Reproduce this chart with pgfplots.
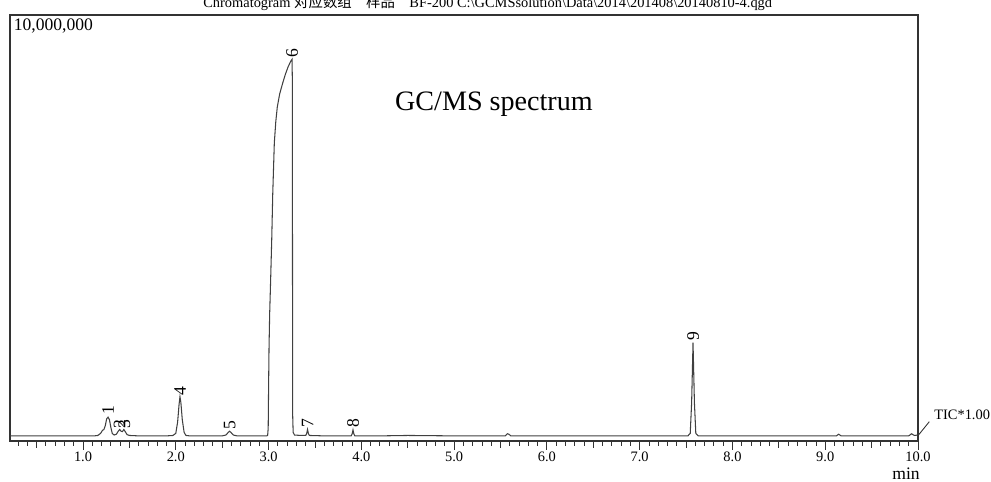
\documentclass[border=0pt]{standalone}
\usepackage{pgfplots}
\pgfplotsset{compat=1.18}
\usepackage{fontspec}
\setmainfont{Liberation Serif}
\newfontfamily\cjk{Noto Sans CJK SC}
\begin{document}
\begin{tikzpicture}
\useasboundingbox (-0.2cm,-0.82cm) rectangle (19.62cm,8.82cm);
\begin{axis}[
  at={(0,0)}, anchor=south west,
  width=18.16cm, height=8.52cm, scale only axis,
  xmin=0.213, xmax=10, ymin=0, ymax=10,
  clip=false,
  axis line style={black!80, line width=0.6pt},
  ytick=\empty,
  xtick={1,2,3,4,5,6,7,8,9,10},
  minor xtick={0.3,0.4,...,9.95},
  extra x ticks={0.5,1.5,2.5,3.5,4.5,5.5,6.5,7.5,8.5,9.5},
  extra x tick labels={},
  extra x tick style={major tick length=0.14cm},
  xtick pos=bottom,
  tick align=outside,
  major tick length=0.18cm,
  minor tick length=0.1cm,
  tick style={black!80, line width=0.5pt},
  xticklabel style={yshift=0.08cm, font=\fontsize{8.2}{10}\selectfont, /pgf/number format/.cd, fixed, fixed zerofill, precision=1, assume math mode=true},
  every node/.style={font=\fontsize{8.2}{10}\selectfont},
]
\addplot[black!75, line width=0.6pt] coordinates {
(0.213,0.12) (0.5,0.12) (0.8,0.12) (1.0,0.12) (1.12,0.12) (1.16,0.13) (1.19,0.18) (1.21,0.25) (1.225,0.27) (1.24,0.36) (1.255,0.52) (1.27,0.56) (1.285,0.50) (1.30,0.32) (1.315,0.18) (1.335,0.14) (1.36,0.16) (1.38,0.23) (1.395,0.27) (1.41,0.23) (1.425,0.22) (1.44,0.27) (1.455,0.22) (1.475,0.15) (1.50,0.13) (1.6,0.12) (1.9,0.12) (1.97,0.13) (2.00,0.18) (2.02,0.45) (2.035,0.85) (2.045,1.04) (2.055,0.90) (2.07,0.50) (2.09,0.20) (2.11,0.13) (2.15,0.12) (2.50,0.12) (2.54,0.14) (2.565,0.20) (2.58,0.23) (2.595,0.20) (2.62,0.14) (2.66,0.12) (2.98,0.12) (2.99,0.13) (2.996,0.3) (3.0,1.2) (3.005,2.2) (3.012,3.0) (3.02,3.6) (3.034,4.72) (3.045,5.8) (3.062,7.0) (3.078,7.5) (3.094,7.84) (3.12,8.15) (3.152,8.40) (3.18,8.6) (3.21,8.78) (3.24,8.92) (3.253,8.96) (3.256,8.5) (3.258,4.0) (3.260,0.6) (3.265,0.2) (3.28,0.14) (3.35,0.13) (3.40,0.13) (3.41,0.17) (3.42,0.27) (3.43,0.17) (3.44,0.13) (3.6,0.12) (3.89,0.12) (3.90,0.16) (3.91,0.26) (3.92,0.16) (3.93,0.12) (4.2,0.12) (4.5,0.13) (5.0,0.12) (5.55,0.12) (5.575,0.17) (5.59,0.16) (5.61,0.12) (6.0,0.12) (7.0,0.12) (7.52,0.12) (7.545,0.18) (7.56,0.9) (7.575,2.31) (7.59,0.9) (7.605,0.18) (7.63,0.12) (8.0,0.12) (9.12,0.12) (9.145,0.16) (9.17,0.12) (9.9,0.12) (9.93,0.17) (9.96,0.13) (10.0,0.14)
};
% peak labels
\node[rotate=90, anchor=west, inner sep=0.8pt] at (axis cs:1.27,0.58) {1};
\node[rotate=90, anchor=west, inner sep=0.5pt] at (axis cs:1.395,0.27) {2};
\node[rotate=90, anchor=west, inner sep=0.5pt] at (axis cs:1.445,0.27) {3};
\node[rotate=90, anchor=west, inner sep=0.5pt] at (axis cs:2.045,1.05) {4};
\node[rotate=90, anchor=west, inner sep=0.5pt] at (axis cs:2.58,0.24) {5};
\node[rotate=90, anchor=west, inner sep=0.5pt] at (axis cs:3.253,8.97) {6};
\node[rotate=90, anchor=west, inner sep=0.5pt] at (axis cs:3.42,0.28) {7};
\node[rotate=90, anchor=west, inner sep=0.5pt] at (axis cs:3.91,0.28) {8};
\node[rotate=90, anchor=west, inner sep=0.5pt] at (axis cs:7.575,2.32) {9};
% texts
\node[anchor=north west, inner sep=2pt] at (rel axis cs:0,1) {10,000,000};
\node[font=\fontsize{16}{19}\selectfont] at (rel axis cs:0.533,0.791) {GC/MS spectrum};
\node at (rel axis cs:1,0) [xshift=-0.24cm, yshift=-0.66cm] {min};
\end{axis}
\draw[black!80, line width=0.5pt] (18.154cm,0.1cm) -- (18.386cm,0.386cm);
\node[anchor=west, inner sep=0pt, font=\fontsize{8.2}{10}\selectfont] at (18.48cm,0.52cm) {TIC*1.00};
\node[anchor=base west, inner sep=0pt, font=\fontsize{8.2}{10}\selectfont] at (3.86cm,8.67cm) {Chromatogram {\cjk 对应数组}\quad{\cjk 样品}\quad BF-200 C:\textbackslash GCMSsolution\textbackslash Data\textbackslash 2014\textbackslash 201408\textbackslash 20140810-4.qgd};
\end{tikzpicture}
\end{document}
